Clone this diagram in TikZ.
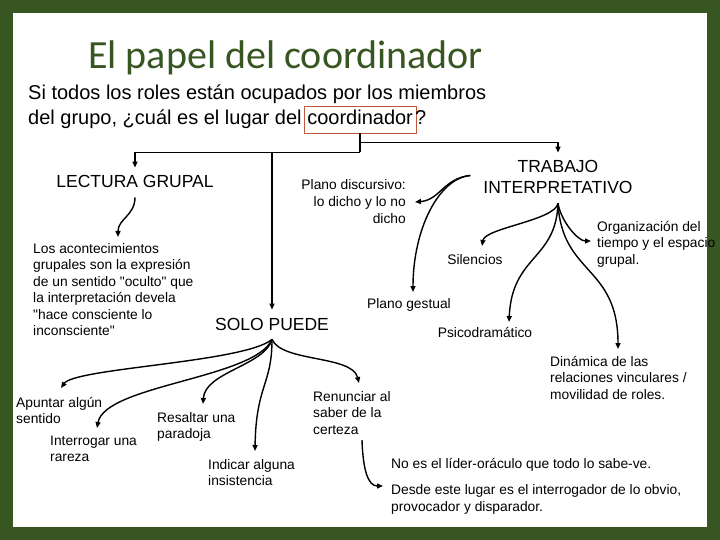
\documentclass[tikz,border=0pt]{standalone}
\usepackage{fontspec}
\setmainfont{Liberation Sans}
\newfontfamily\titlefont{Carlito}
\usetikzlibrary{arrows.meta,positioning,calc}
\definecolor{framegreen}{RGB}{55,86,33}
\definecolor{boxline}{RGB}{190,90,60}

\begin{document}
\begin{tikzpicture}[
      x=1pt, y=-1pt,
      >={Triangle[length=6pt,width=5pt]},
      conn/.style  ={line width=1.4pt, ->},
      head/.style  ={font=\fontsize{17.5}{21}\selectfont, inner xsep=0pt,
                     inner ysep=8pt, align=center, anchor=base},
      lbl/.style   ={font=\fontsize{13.8}{16.5}\selectfont, inner sep=0pt,
                     align=left, anchor=base west},
      subt/.style  ={font=\fontsize{20}{24}\selectfont, inner sep=0pt,
                     anchor=base west}
    ]

    % frame
    \fill[framegreen] (0,0) rectangle (720,540);
    \fill[white] (13,13) rectangle (707,527);
    \useasboundingbox (0,0) rectangle (720,540);

    \node[font=\titlefont\fontsize{40}{48}\selectfont, text=framegreen,
          inner sep=0pt, anchor=base west] (title) at (88,69) {El papel del coordinador};

    \node[subt] (sub1) at (28,100) {Si todos los roles están ocupados por los miembros};
    \node[subt] (sub2) at (28,125) {del grupo, ¿cuál es el lugar del};
    \node[subt, draw=boxline, line width=0.8pt, inner xsep=3pt, text height=19pt,
          text depth=8pt] (coord) at ([xshift=2pt]sub2.base east) {coordinador};
    \node[subt] (qmark) at ([xshift=-1.5pt]coord.base east) {?};

    % nodes sit on the baseline of their last line
    \node[head] (lectura) at (135,188) {LECTURA GRUPAL};
    \node[head] (trabajo) at (558,194) {TRABAJO\\INTERPRETATIVO};
    \node[head] (solo) at (272,330) {SOLO PUEDE};

    \node[lbl] (acont) at (33,335.5) {Los acontecimientos\\grupales son la expresión\\de un sentido \textquotedbl oculto\textquotedbl{} que\\la interpretación devela\\\textquotedbl hace consciente lo\\inconsciente\textquotedbl};
    \node[lbl, align=right, anchor=base east] (discur) at (406,223) {Plano discursivo:\\lo dicho y lo no\\dicho};
    \node[lbl, anchor=base] (silen) at (475,264) {Silencios};
    \node[lbl, anchor=base] (gestual) at (409,308) {Plano gestual};
    \node[lbl, anchor=base] (psico) at (485,337) {Psicodramático};
    \node[lbl] (organiz) at (597,264) {Organización del\\tiempo y el espacio\\grupal.};
    \node[lbl] (dinamica) at (550,399) {Dinámica de las\\relaciones vinculares /\\movilidad de roles.};
    \node[lbl] (apuntar) at (16,423.5) {Apuntar algún\\sentido};
    \node[lbl] (interrog) at (50,461.5) {Interrogar una\\rareza};
    \node[lbl] (resaltar) at (157,438.5) {Resaltar una\\paradoja};
    \node[lbl] (indicar) at (208,485.5) {Indicar alguna\\insistencia};
    \node[lbl] (renunciar) at (313,434) {Renunciar al\\saber de la\\certeza};
    \node[lbl] (noes) at (391,468) {No es el líder-oráculo que todo lo sabe-ve.};
    \node[lbl] (desde) at (391,511) {Desde este lugar es el interrogador de lo obvio,\\provocador y disparador.};

    % from the coordinator
    \coordinate (split) at ($(coord.south)+(0,9)$);
    \coordinate (hub) at ($(coord.south)+(0,19)$);
    \draw[line width=1.4pt] (coord.south) -- (hub);
    \draw[conn] (split) -| (trabajo.north);
    \draw[conn] (hub) -| (lectura.north);
    \draw[conn] (hub -| solo.north) -- (solo.north);

    \draw[conn] ($(lectura.south)+(0,1)$) .. controls +(0,18) and +(0,-18) .. ($(acont.base west)+(85,-98.5)$);

    % trabajo interpretativo
    \coordinate (tleft) at ($(trabajo.west)+(-13,-2)$);
    \draw[conn] (tleft) .. controls +(-27,3) and +(25,-2) .. ($(discur.base east)+(9,-21)$);
    \draw[conn] (tleft) .. controls +(-32,3) and +(0,-62) .. ($(gestual.base)+(4,-16)$);
    \coordinate (tbot) at ($(trabajo.south)+(0,1)$);
    \draw[conn] (tbot) .. controls +(-3,17) and +(3,-18) .. ($(silen.base)+(7,-18)$);
    \draw[conn] (tbot) .. controls +(3,18) and +(-13,0) .. ($(organiz.base west)+(-6,-23)$);
    \draw[conn] (tbot) .. controls +(-2,57) and +(3,-67) .. ($(psico.base)+(24,-15)$);
    \draw[conn] (tbot) .. controls +(4,72) and +(0,-84) .. ($(dinamica.base west)+(68,-50)$);

    % solo puede
    \coordinate (sbot) at ($(solo.south)+(0,1)$);
    \draw[conn] (sbot) .. controls +(-27,23) and +(14,-20) .. ($(apuntar.base west)+(45,-35.5)$);
    \draw[conn] (sbot) .. controls +(-17,39) and +(8,-43) .. ($(interrog.base west)+(47,-33.5)$);
    \draw[conn] (sbot) .. controls +(-7,26) and +(2,-32) .. ($(resaltar.base west)+(46,-34.5)$);
    \draw[conn] (sbot) .. controls +(0,46) and +(1,-66) .. ($(indicar.base west)+(47,-34.5)$);
    \draw[conn] (sbot) .. controls +(10,23) and +(-7,-28) .. ($(renunciar.base west)+(46,-51)$);
    \draw[conn] ($(renunciar.base west)+(49,6)$) .. controls +(1,30) and +(-15,0) .. ($(desde.base west)+(-8,-25)$);
\end{tikzpicture}
\end{document}
